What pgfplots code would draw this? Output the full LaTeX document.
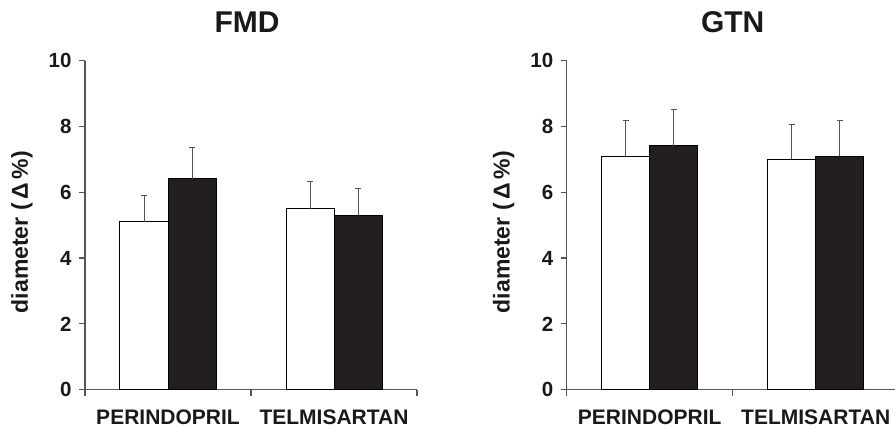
\documentclass[border=0pt]{standalone}
\usepackage{fontspec}
\setmainfont{Liberation Sans}
\usepackage{pgfplots}
\pgfplotsset{compat=1.18}
\definecolor{axisgray}{HTML}{555555}
\definecolor{barblack}{HTML}{231F20}
\pgfplotsset{
  panel/.style={
    scale only axis, width=332pt, height=329pt,
    anchor=south west,
    ybar=0pt, bar width=48pt,
    xmin=0, xmax=2, ymin=0, ymax=10,
    axis lines*=left,
    axis line style={axisgray, line width=1.2pt},
    tick align=outside,
    major tick length=6pt,
    tick style={axisgray, line width=1.2pt},
    xtick={0,1,2}, xticklabels={},
    extra x ticks={0.5,1.5},
    extra x tick labels={PERINDOPRIL,TELMISARTAN},
    extra x tick style={major tick length=0pt,
      tick label style={anchor=center, yshift=-28pt}},
    xticklabel style={font=\bfseries\fontsize{21}{24}\selectfont, text=black!90},
    ytick={0,2,4,6,8,10},
    yticklabel style={font=\bfseries\fontsize{20.5}{23}\selectfont, text=black!90,
      xshift=-4pt, /pgf/number format/assume math mode=true},
    ylabel={diameter (\,Δ\,\%)},
    ylabel style={font=\bfseries\fontsize{23}{26}\selectfont, text=black!90,
      at={(axis description cs:-0.19,0.479)}, anchor=center},
    title style={font=\bfseries\fontsize{30}{36}\selectfont, text=black!90,
      at={(axis description cs:0.5,1)}, anchor=center, yshift=33pt},
  },
  whitebar/.style={fill=white, draw=black, line width=1pt,
    error bars/.cd, y dir=plus, y explicit,
    error bar style={axisgray, line width=1pt},
    error mark options={rotate=90, mark size=3pt, axisgray, line width=1pt}},
  blackbar/.style={fill=barblack, draw=black, line width=1pt,
    error bars/.cd, y dir=plus, y explicit,
    error bar style={axisgray, line width=1pt},
    error mark options={rotate=90, mark size=3pt, axisgray, line width=1pt}},
}
\begin{document}
\begin{tikzpicture}
\useasboundingbox (0pt,0pt) rectangle (895pt,428pt);
\begin{axis}[panel, at={(85pt,38.3pt)}, title={FMD}, title style={xshift=-4pt}]
  \addplot[whitebar] coordinates {(0.5,5.11) +- (0,0.78) (1.5,5.50) +- (0,0.82)};
  \addplot[blackbar] coordinates {(0.5,6.41) +- (0,0.96) (1.5,5.30) +- (0,0.82)};
\end{axis}
\begin{axis}[panel, at={(566.7pt,38.3pt)}, title={GTN}]
  \addplot[whitebar] coordinates {(0.5,7.09) +- (0,1.09) (1.5,7.00) +- (0,1.05)};
  \addplot[blackbar] coordinates {(0.5,7.41) +- (0,1.10) (1.5,7.09) +- (0,1.09)};
\end{axis}
\end{tikzpicture}
\end{document}
